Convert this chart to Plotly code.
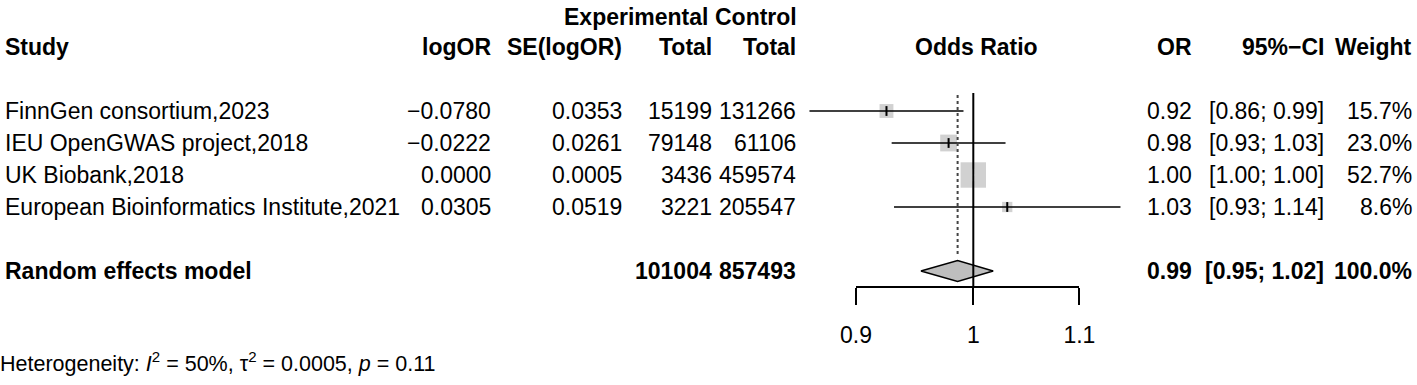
import math
import plotly.graph_objects as go

# ---------------- data ----------------
studies = ["FinnGen consortium,2023", "IEU OpenGWAS project,2018",
           "UK Biobank,2018", "European Bioinformatics Institute,2021"]
log_or = [-0.0780, -0.0222, 0.0000, 0.0305]
se_log_or = [0.0353, 0.0261, 0.0005, 0.0519]
exp_total = [15199, 79148, 3436, 3221]
ctrl_total = [131266, 61106, 459574, 205547]
weights = [15.7, 23.0, 52.7, 8.6]

pooled_label = "Random effects model"
pooled_exp_total = 101004
pooled_ctrl_total = 857493
pooled_or = 0.986
pooled_lo = 0.954
pooled_hi = 1.018
pooled_weight = 100.0

hetero_text = ("Heterogeneity: <i>I</i><sup>2</sup> = 50%, "
               "\u03c4<sup>2</sup> = 0.0005, <i>p</i> = 0.11")
tick_vals = [0.9, 1.0, 1.1]
tick_text = ["0.9", "1", "1.1"]

# ---------------- layout constants ----------------
W, H = 1417, 385
FONT = "Liberation Sans, Arial, Helvetica, sans-serif"
FS = 23
ROW0_PX, ROW_H, AXIS_PX = 111, 32, 286
ONE_PX, PX_PER_DEC = 973.3, 2563.0
XDOM_PX = (770, 1150)


def px_of(v):
    return ONE_PX + PX_PER_DEC * math.log10(v)


MINUS = "\u2212"


def fmt_num(v, d):
    s = f"{v:.{d}f}"
    return s.replace("-", MINUS)


n = len(studies)
rows = list(range(n))
pooled_row = n + 1
ors = [math.exp(b) for b in log_or]
los = [math.exp(b - 1.96 * s) for b, s in zip(log_or, se_log_or)]
his = [math.exp(b + 1.96 * s) for b, s in zip(log_or, se_log_or)]
sizes = [3.5 * math.sqrt(w) for w in weights]

fig = go.Figure()

# squares
fig.add_trace(go.Scatter(
    x=ors, y=rows, mode="markers", xaxis="x", yaxis="y",
    marker=dict(symbol="square", size=sizes, color="#BEBEBE", line=dict(width=0)),
    hoverinfo="skip", showlegend=False))

# CI lines (white when inside the square)
for i in rows:
    inside = (px_of(his[i]) - px_of(los[i])) / 2 < sizes[i] / 2
    col = "white" if inside else "black"
    fig.add_trace(go.Scatter(
        x=[los[i], his[i]], y=[rows[i], rows[i]], mode="lines", xaxis="x", yaxis="y",
        line=dict(color=col, width=1.6), hoverinfo="skip", showlegend=False))
    fig.add_trace(go.Scatter(
        x=[ors[i]], y=[rows[i]], mode="markers", xaxis="x", yaxis="y",
        marker=dict(symbol="line-ns", size=7 if not inside else 9,
                    line=dict(color=col, width=2)),
        hoverinfo="skip", showlegend=False))

# pooled estimate dotted line
fig.add_trace(go.Scatter(
    x=[pooled_or, pooled_or], y=[-0.5, 4.55], mode="lines", xaxis="x", yaxis="y",
    line=dict(color="#444444", width=2, dash="dot"), hoverinfo="skip", showlegend=False))

# diamond
dh = 0.33
fig.add_trace(go.Scatter(
    x=[pooled_lo, pooled_or, pooled_hi, pooled_or, pooled_lo],
    y=[pooled_row, pooled_row - dh, pooled_row, pooled_row + dh, pooled_row],
    mode="lines", fill="toself", fillcolor="#BEBEBE", xaxis="x", yaxis="y",
    line=dict(color="black", width=1.5), hoverinfo="skip", showlegend=False))

# null line at OR = 1 (on the visible axis)
y_bottom = (AXIS_PX - ROW0_PX) / ROW_H
y_top = -ROW0_PX / ROW_H
fig.add_trace(go.Scatter(
    x=[1.0, 1.0], y=[-0.56, y_bottom], mode="lines", xaxis="x2", yaxis="y",
    line=dict(color="black", width=2), hoverinfo="skip", showlegend=False))

# ---------------- text columns ----------------
ann = []


def txt(x_px, row, s, anchor="right", bold=False, yref="y", size=FS):
    if bold:
        s = f"<b>{s}</b>"
    ann.append(dict(x=x_px / W, xref="paper", y=row, yref=yref, text=s,
                    xanchor=anchor, yanchor="middle", showarrow=False,
                    borderpad=0, borderwidth=0,
                    font=dict(family=FONT, size=size, color="black")))


COL_STUDY = 5
COL_LOGOR = 491
COL_SE = 622
COL_EXP = 712
COL_CTRL = 796
COL_OR = 1192
COL_CI = 1324
COL_W = 1412

# header
hdr1 = (17 - ROW0_PX) / ROW_H
hdr2 = -2
txt(COL_EXP - 4, hdr1, "Experimental", bold=True)
txt(COL_CTRL + 1, hdr1, "Control", bold=True)
txt(COL_STUDY, hdr2, "Study", anchor="left", bold=True)
txt(COL_LOGOR, hdr2, "logOR", bold=True)
txt(COL_SE, hdr2, "SE(logOR)", bold=True)
txt(COL_EXP, hdr2, "Total", bold=True)
txt(COL_CTRL, hdr2, "Total", bold=True)
txt(976, hdr2, "Odds Ratio", anchor="center", bold=True)
txt(COL_OR, hdr2, "OR", bold=True)
txt(COL_CI, hdr2, f"95%{MINUS}CI", bold=True)
txt(COL_W, hdr2, "Weight", bold=True)

for i in rows:
    r = rows[i]
    txt(COL_STUDY, r, studies[i], anchor="left")
    txt(COL_LOGOR, r, fmt_num(log_or[i], 4))
    txt(COL_SE, r, fmt_num(se_log_or[i], 4))
    txt(COL_EXP, r, str(exp_total[i]))
    txt(COL_CTRL, r, str(ctrl_total[i]))
    txt(COL_OR, r, fmt_num(ors[i], 2))
    txt(COL_CI, r, f"[{fmt_num(los[i], 2)}; {fmt_num(his[i], 2)}]")
    txt(COL_W, r, f"{weights[i]:.1f}%")

txt(COL_STUDY, pooled_row, pooled_label, anchor="left", bold=True)
txt(COL_EXP, pooled_row, str(pooled_exp_total), bold=True)
txt(COL_CTRL, pooled_row, str(pooled_ctrl_total), bold=True)
txt(COL_OR, pooled_row, fmt_num(pooled_or, 2), bold=True)
txt(COL_CI, pooled_row, f"[{fmt_num(pooled_lo, 2)}; {fmt_num(pooled_hi, 2)}]", bold=True)
txt(COL_W, pooled_row, f"{pooled_weight:.1f}%", bold=True)

txt(0, 1 - 362 / H, hetero_text, anchor="left", yref="paper", size=21.5)

# ---------------- axes ----------------
x_range = [(XDOM_PX[0] - ONE_PX) / PX_PER_DEC, (XDOM_PX[1] - ONE_PX) / PX_PER_DEC]
x2_dom = [px_of(tick_vals[0]) / W, px_of(tick_vals[-1]) / W]

fig.update_layout(
    template="none",
    width=W, height=H, autosize=False,
    margin=dict(l=0, r=0, t=0, b=0, pad=0, autoexpand=False),
    paper_bgcolor="white", plot_bgcolor="rgba(0,0,0,0)",
    showlegend=False,
    annotations=ann,
    xaxis=dict(type="log", domain=[XDOM_PX[0] / W, XDOM_PX[1] / W], range=x_range,
               visible=False, anchor="y", automargin=False),
    xaxis2=dict(type="log", domain=x2_dom,
                range=[math.log10(tick_vals[0]), math.log10(tick_vals[-1])],
                tickvals=tick_vals, ticktext=tick_text, anchor="y",
                showline=True, linecolor="black", linewidth=2,
                ticks="outside", ticklen=17, tickwidth=2, tickcolor="black",
                ticklabelstandoff=10, automargin=False,
                showgrid=False, zeroline=False,
                tickfont=dict(family=FONT, size=FS, color="black")),
    yaxis=dict(domain=[1 - AXIS_PX / H, 1], range=[y_bottom, y_top],
               visible=False, showgrid=False, zeroline=False, automargin=False),
)

fig.write_html(
    "out.html",
    config={"displayModeBar": False, "staticPlot": True},
    post_script="document.body.style.margin='0';document.body.style.overflow='hidden';",
)
